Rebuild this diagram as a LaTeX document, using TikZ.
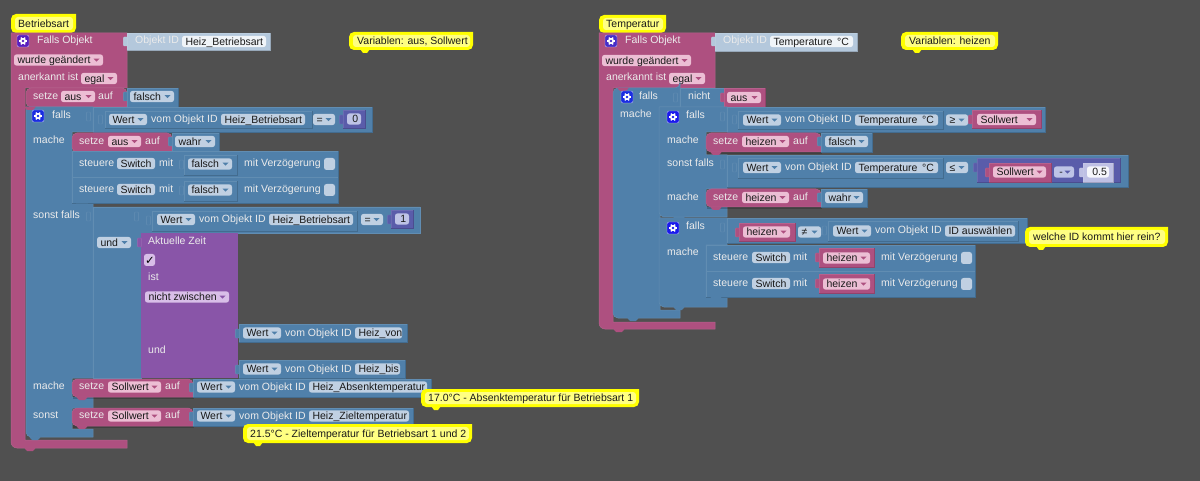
\documentclass[tikz,border=0pt]{standalone}
\usepackage{fontspec}
\setmainfont{Liberation Sans}
\newfontfamily\djv{DejaVu Sans}
\definecolor{bgc}{RGB}{80,80,80}
\definecolor{pk}{RGB}{174,80,128}
\definecolor{bl}{RGB}{80,128,170}
\definecolor{pu}{RGB}{137,85,168}
\definecolor{ig}{RGB}{90,92,170}
\definecolor{pa}{RGB}{180,200,220}
\definecolor{pig}{RGB}{190,192,228}
\definecolor{fb}{RGB}{192,208,226}
\definecolor{fp}{RGB}{236,190,212}
\definecolor{fu}{RGB}{216,190,232}
\definecolor{fi}{RGB}{190,195,230}
\colorlet{fbA}{bl}
\colorlet{fpA}{pk}
\colorlet{fuA}{pu}
\colorlet{fiA}{ig}
\definecolor{yb}{RGB}{255,255,0}
\definecolor{yi}{RGB}{255,255,130}
\definecolor{tx}{RGB}{25,25,25}
\definecolor{gp}{RGB}{90,30,190}
\definecolor{gb}{RGB}{25,45,225}
\definecolor{gi}{RGB}{25,25,235}
\definecolor{ga}{RGB}{70,45,200}
\newcounter{nn}
\tikzset{txt/.style={font=\fontsize{10.5}{12}\selectfont,inner sep=0pt,anchor=base west}}
% plain rectangular block with shadow and bevel
\newcommand{\blk}[5]{%
  \fill[black,opacity=.14] ({#2+1},{#3+1}) rectangle ({#4+1},{#5+1});
  \fill[#1] (#2,#3) rectangle (#4,#5);
  \draw[#1!84!black,line width=.6pt] (#2,#5) -- (#4,#5) -- (#4,#3);
  \draw[#1!90!white,line width=.5pt] (#2,#5) -- (#2,#3) -- (#4,#3);
}
% left-rounded block
\newcommand{\blkL}[5]{%
  \fill[black,opacity=.2] ({#2+1},{#5-6}) -- ({#2+1},{#5+2}) -- ({#4+1},{#5+2}) -- ({#4+1},{#5-6}) -- cycle;
  \path[fill=#1,draw=#1!90!white,line width=.5pt] (#4,#5) [rounded corners=5pt] -- (#2,#5) -- (#2,#3) -- (#4,#3) [sharp corners] -- cycle;
}
\newcommand{\tabb}[3]{\path[fill=#1,draw=#1!88!white,line width=.4pt,rounded corners=1pt] ({#2-3.6},{#3}) rectangle ({#2+.6},{#3+9});}
\newcommand{\notch}[3]{\fill[#1] ({#2+9},{#3-.4}) -- ({#2+12},{#3+3}) -- ({#2+18},{#3+3}) -- ({#2+21},{#3-.4}) -- cycle;}
\newcommand{\lab}[3]{\stepcounter{nn}\node[txt,text=white!92!black] (n\arabic{nn}) at (#1,{#2+3.7}) {#3};}
\newcommand{\fld}[5]{% col x1 x2 yc text
  \fill[#1,rounded corners=2.5pt] (#2,{#4-5.6}) rectangle (#3,{#4+5.6});
  \stepcounter{nn}\node[txt,text=tx] (n\arabic{nn}) at ({#2+3.3},{#4+3.7}) {#5};}
\newcommand{\dd}[5]{% field with dropdown arrow
  \fld{#1}{#2}{#3}{#4}{#5}
  \fill[#1A] ({#3-9.5},{#4-1.3}) -- ({#3-3.5},{#4-1.3}) -- ({#3-6.5},{#4+1.7}) -- cycle;}
\newcommand{\chk}[3]{\fill[#1,rounded corners=2.5pt] (#2,#3) rectangle ({#2+11},{#3+12});}
\newcommand{\gear}[3]{% x y col
  \fill[#3,rounded corners=2pt] (#1,#2) rectangle ({#1+12},{#2+12});
  \draw[white!70!#3,rounded corners=2pt,line width=.4pt] (#1,#2) rectangle ({#1+12},{#2+12});
  \foreach \a in {0,60,...,300}{\draw[white,line width=1.3pt] ({#1+6+2.4*cos(\a)},{#2+6+2.4*sin(\a)}) -- ({#1+6+4*cos(\a)},{#2+6+4*sin(\a)});}
  \fill[white] ({#1+6},{#2+6}) circle (3.1pt);
  \fill[#3] ({#1+6},{#2+6}) circle (1.4pt);}
\newcommand{\wertrow}[4]{% x yc idx2 id
  \dd{fb}{#1}{#1+38}{#2}{Wert}
  \lab{#1+42}{#2-.7}{vom Objekt ID}
  \fld{fb}{#1+112}{#3}{#2}{#4}}
% note: x1 y1 x2 y2 tabx text textx
\newcommand{\note}[7]{%
  \path[fill=yb] (#3,#2) [rounded corners=5pt] -- (#1,#2) -- (#1,#4) -- (#3,#4) [sharp corners] -- cycle;
  \fill[yb] ({#5-5},{#4-1}) -- ({#5-2},{#4+3}) -- ({#5+2},{#4+3}) -- ({#5+5},{#4-1}) -- cycle;
  \fill[yi,rounded corners=3pt] ({#1+4},{#2+3}) rectangle ({#3-3},{#4-3});
  \stepcounter{nn}\node[txt,text=tx] (n\arabic{nn}) at (#7,{(#2+#4)/2+3.7}) {#6};}
\begin{document}
\begin{tikzpicture}[x=1pt,y=-1pt]
\useasboundingbox (0,0) rectangle (1200,481);
\fill[bgc] (0,0) rectangle (1200,481);

%%%%%%%%%%%%%%%% LEFT SCRIPT
\note{11}{14}{76}{33}{27}{Betriebsart}{18}
\note{349}{32}{473}{50}{365}{Variablen: aus, Sollwert}{357}
\path[fill=pk,draw=pk!90!white,line width=.5pt] (11,33) -- (127,33) -- (127,88) -- (25,88) -- (25,440) -- (127,440) -- (127,448) [rounded corners=6pt] -- (11,448) -- (11,400) [sharp corners] -- cycle;
\notch{pk}{15}{448}
\gear{17}{35}{gp}
\lab{37}{40}{Falls Objekt}
\dd{fp}{14}{103}{60}{wurde geändert}
\lab{18}{77}{anerkannt ist}
\dd{fp}{81}{117}{78.5}{egal}
\blk{pa}{127}{33}{270}{50}
\tabb{pa}{127}{37}
\lab{135}{40}{Objekt ID}
\fld{white!80!pa}{182}{266}{41.5}{Heiz\_Betriebsart}

% setze aus falsch
\blkL{pk}{26}{88}{127}{107}
\lab{33}{96}{setze}
\dd{fp}{61}{95}{96.5}{aus}
\lab{98}{96}{auf}
\blk{bl}{127}{88}{178}{107}
\tabb{bl}{127}{92}
\dd{fb}{130}{174}{96.5}{falsch}

% falls blue column
\path[fill=bl,draw=bl!90!white,line width=.5pt] (26,107) -- (93,107) -- (93,132) -- (72,132) -- (72,204) -- (93,204) -- (93,378) -- (72,378) -- (72,397) -- (93,397) -- (93,408) -- (72,408) -- (72,429) -- (93,429) -- (93,437) [rounded corners=5pt] -- (26,437) -- (26,420) [sharp corners] -- cycle;
\notch{bl}{20}{437}
\notch{pk}{15}{107}
\gear{32}{110}{gb}
\lab{52}{115}{falls}
\lab{33}{140}{mache}
\lab{33}{215}{sonst falls}
\lab{33}{386}{mache}
\lab{33}{415}{sonst}

% condition 1
\blk{bl}{93}{107}{372}{132}
\tabb{bl}{90}{112}
\blk{bl}{105}{111}{312}{128}
\tabb{bl}{102}{115}
\wertrow{109}{119.5}{305}{Heiz\_Betriebsart}
\dd{fb}{313}{335}{119.5}{=}
\blk{ig}{343}{110}{365}{128}
\tabb{ig}{343}{115}
\fld{fi}{347}{361}{119}{\,0}

% setze aus wahr
\blkL{pk}{72}{133}{172}{152}
\notch{pk}{67}{152}
\lab{79}{141}{setze}
\dd{fp}{108}{141}{141.5}{aus}
\lab{145}{141}{auf}
\blk{bl}{172}{133}{219}{152}
\tabb{bl}{172}{137}
\dd{fb}{175}{215}{141.5}{wahr}

% steuere
\foreach \yy in {0,26}{
  \blk{bl}{72}{151+\yy}{338}{177+\yy}
  \lab{79}{163+\yy}{steuere}
  \fld{fb}{117}{155}{163.5+\yy}{Switch}
  \lab{159}{163+\yy}{mit}
  \blk{bl}{184}{155+\yy}{237}{175+\yy}
  \tabb{bl}{183}{160+\yy}
  \dd{fb}{188}{232}{164+\yy}{falsch}
  \lab{244}{163+\yy}{mit Verzögerung}
  \chk{fb}{324}{158+\yy}
}
\notch{bl}{67}{204}

% sonst falls
\path[fill=bl,draw=bl!90!white,line width=.5pt] (93,207) -- (420,207) -- (420,233) -- (141,233) -- (141,378) -- (93,378) -- cycle;
\tabb{bl}{90}{212}
\blk{bl}{152}{211}{357}{231}
\tabb{bl}{138}{212}
\tabb{bl}{150}{216}
\wertrow{157}{219.5}{353}{Heiz\_Betriebsart}
\dd{fb}{361}{383}{219.5}{=}
\blk{ig}{391}{210}{413}{228}
\tabb{ig}{391}{215}
\fld{fi}{395}{409}{219}{\,1}
\dd{fb}{97}{131}{242.5}{und}

% Aktuelle Zeit
\fill[pu] (141,233) rectangle (238,378);
\tabb{pu}{141}{238}
\lab{148}{241}{Aktuelle Zeit}
\chk{fu}{144}{254}
\stepcounter{nn}\node[txt,text=black,font=\djv\bfseries\fontsize{11.5}{12}\selectfont] (n\arabic{nn}) at (145,264.5) {✓};
\lab{148}{277}{ist}
\dd{fu}{145}{229}{297}{nicht zwischen}
\lab{148}{350}{und}
\blk{bl}{239}{324}{407}{342}
\tabb{bl}{239}{329}
\wertrow{243}{333}{402}{Heiz\_von}
\blk{bl}{239}{360}{405}{378}
\tabb{bl}{239}{365}
\wertrow{243}{369}{400}{Heiz\_bis}

% Sollwert
\blkL{pk}{72}{379}{193}{397}
\notch{pk}{67}{397}
\lab{79}{386}{setze}
\dd{fp}{108}{161}{387}{Sollwert}
\lab{165}{386}{auf}
\blk{bl}{193}{379}{431}{397}
\tabb{bl}{193}{383}
\wertrow{197}{387}{427}{Heiz\_Absenktemperatur}
\blkL{pk}{72}{408}{193}{426}
\notch{pk}{67}{426}
\lab{79}{415}{setze}
\dd{fp}{108}{161}{416}{Sollwert}
\lab{165}{415}{auf}
\blk{bl}{193}{408}{413}{426}
\tabb{bl}{193}{412}
\wertrow{197}{416}{409}{Heiz\_Zieltemperatur}
\note{421}{389}{639}{407}{436}{17.0°C - Absenktemperatur für Betriebsart 1}{428}
\note{243}{424}{472}{443}{258}{21.5°C - Zieltemperatur für Betriebsart 1 und 2}{250}

%%%%%%%%%%%%%%%% RIGHT SCRIPT
\note{599}{15}{666}{33}{614}{Temperatur}{606}
\note{901}{32}{998}{50}{917}{Variablen: heizen}{909}
\path[fill=pk,draw=pk!90!white,line width=.5pt] (599,33) -- (715,33) -- (715,88) -- (613,88) -- (613,322) -- (715,322) -- (715,329) [rounded corners=6pt] -- (599,329) -- (599,300) [sharp corners] -- cycle;
\notch{pk}{604}{329}
\gear{605}{35}{ga}
\lab{625}{40}{Falls Objekt}
\dd{fp}{602}{691}{60.5}{wurde geändert}
\lab{606}{77}{anerkannt ist}
\dd{fp}{669}{705}{78.5}{egal}
\blk{pa}{715}{33}{857}{51}
\tabb{pa}{715}{37}
\lab{723}{40}{Objekt ID}
\fld{white!80!pa}{770}{853}{41.5}{Temperature \,°C}

% outer falls
\path[fill=bl,draw=bl!90!white,line width=.5pt] (680,88) -- (680,107) -- (660,107) -- (660,310) -- (680,310) -- (680,318) [rounded corners=5pt] -- (613,318) -- (613,88) -- (680,88) [sharp corners] -- cycle;
\notch{bl}{618}{318}
\notch{pk}{608}{88}
\gear{621}{91}{gb}
\lab{639}{96}{falls}
\lab{620}{114}{mache}
\blk{bl}{680}{88}{724}{107}
\tabb{bl}{677}{93}
\lab{688}{96}{nicht}
\blk{pk}{724}{88}{765}{107}
\tabb{pk}{724}{93}
\dd{fp}{727}{761}{97.5}{aus}

% inner falls 1
\path[fill=bl,draw=bl!90!white,line width=.5pt] (659,107) -- (727,107) -- (727,132) -- (706,132) -- (706,155) -- (727,155) -- (727,189) -- (706,189) -- (706,207) -- (727,207) -- (727,217) [rounded corners=5pt] -- (659,217) -- (659,200) [sharp corners] -- cycle;
\notch{bl}{664}{217}
\gear{667}{111}{gi}
\lab{686}{115}{falls}
\lab{667}{140}{mache}
\lab{667}{163}{sonst falls}
\lab{667}{197}{mache}
\blk{bl}{727}{107}{1045}{132}
\tabb{bl}{724}{112}
\blk{bl}{738}{111}{943}{129}
\tabb{bl}{736}{115}
\wertrow{743}{120}{938}{Temperature \,°C}
\dd{fb}{946}{968}{120}{≥}
\blk{pk}{972}{110}{1041}{128}
\tabb{pk}{972}{115}
\dd{fp}{977}{1036}{119.5}{Sollwert}

\blkL{pk}{706}{133}{821}{152}
\notch{pk}{701}{152}
\lab{713}{141}{setze}
\dd{fp}{742}{789}{141.5}{heizen}
\lab{793}{141}{auf}
\blk{bl}{821}{133}{872}{152}
\tabb{bl}{821}{137}
\dd{fb}{825}{868}{141.5}{falsch}

\blk{bl}{727}{155}{1128}{187}
\tabb{bl}{724}{160}
\blk{bl}{738}{158}{943}{178}
\tabb{bl}{736}{163}
\wertrow{743}{167.5}{938}{Temperature \,°C}
\dd{fb}{946}{968}{167.5}{≤}
\blk{ig}{977}{158}{1120}{182}
\tabb{ig}{977}{163}
\blk{pk}{989}{163}{1051}{182}
\tabb{pk}{989}{168}
\dd{fp}{993}{1046}{172}{Sollwert}
\dd{fi}{1054}{1074}{172}{\,-}
\blk{pig}{1083}{163}{1113}{182}
\tabb{pig}{1083}{168}
\fld{white!85!pig}{1087}{1109}{172}{\,0.5}

\blkL{pk}{706}{189}{821}{207}
\notch{pk}{701}{207}
\lab{713}{197}{setze}
\dd{fp}{742}{789}{197.5}{heizen}
\lab{793}{197}{auf}
\blk{bl}{821}{189}{867}{207}
\tabb{bl}{821}{193}
\dd{fb}{825}{863}{197.5}{wahr}

% inner falls 2
\path[fill=bl,draw=bl!90!white,line width=.5pt] (659,218) -- (727,218) -- (727,245) -- (706,245) -- (706,297) -- (727,297) -- (727,307) [rounded corners=5pt] -- (659,307) -- (659,290) [sharp corners] -- cycle;
\notch{bl}{664}{307}
\notch{bl}{664}{218}
\gear{667}{222}{gi}
\lab{686}{226}{falls}
\lab{667}{252}{mache}
\blk{bl}{727}{218}{1027}{243}
\tabb{bl}{724}{223}
\blk{pk}{739}{223}{795}{241}
\tabb{pk}{739}{228}
\dd{fp}{743}{790}{232}{heizen}
\dd{fb}{798}{821}{232}{≠}
\blk{bl}{828}{221}{1018}{241}
\tabb{bl}{826}{226}
\wertrow{833}{231}{1015}{ID auswählen}
\note{1025}{227}{1168}{247}{1041}{welche ID kommt hier rein?}{1033}

\foreach \yy in {0,26}{
  \blk{bl}{706}{245+\yy}{975}{271+\yy}
  \lab{713}{257+\yy}{steuere}
  \fld{fb}{752}{790}{257.5+\yy}{Switch}
  \lab{793}{257+\yy}{mit}
  \blk{pk}{819}{248.5+\yy}{874}{267.5+\yy}
  \tabb{pk}{819}{253+\yy}
  \dd{fp}{823}{870}{258+\yy}{heizen}
  \lab{881}{257+\yy}{mit Verzögerung}
  \chk{fb}{961}{252+\yy}
}
\notch{bl}{701}{297}
\end{tikzpicture}
\end{document}
